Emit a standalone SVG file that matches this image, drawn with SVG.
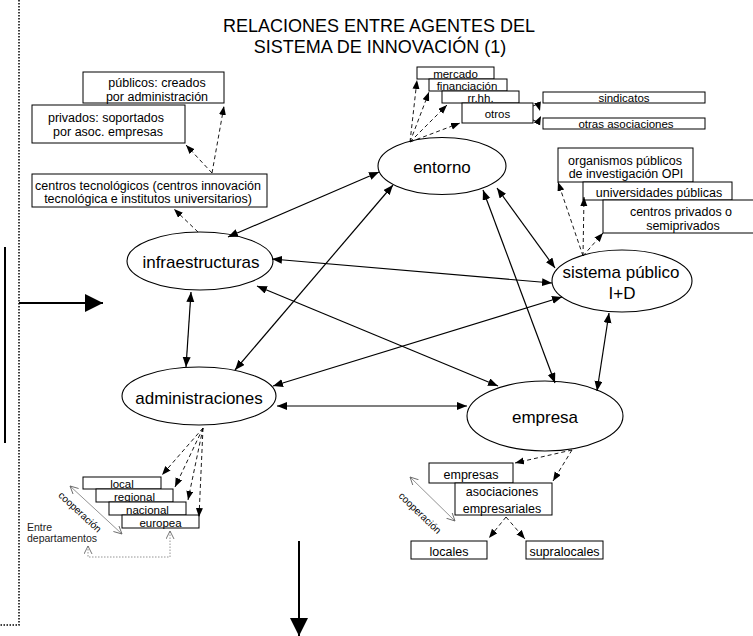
<svg xmlns="http://www.w3.org/2000/svg" width="753" height="636" viewBox="0 0 753 636">
<defs>
<marker id="ah" markerUnits="userSpaceOnUse" markerWidth="11" markerHeight="9" refX="10" refY="4" orient="auto-start-reverse" viewBox="0 0 11 9"><path d="M0,0 L10,4 L0,8 z" fill="#000"/></marker>
<marker id="ahd" markerUnits="userSpaceOnUse" markerWidth="10" markerHeight="8" refX="9" refY="3.5" orient="auto-start-reverse" viewBox="0 0 10 8"><path d="M0,0 L9,3.5 L0,7 z" fill="#000"/></marker>
<marker id="big" markerUnits="userSpaceOnUse" markerWidth="19" markerHeight="19" refX="18" refY="9" orient="auto" viewBox="0 0 19 19"><path d="M0,0 L18,9 L0,18 z" fill="#000"/></marker>
<marker id="open" markerUnits="userSpaceOnUse" markerWidth="10" markerHeight="9" refX="8" refY="4" orient="auto-start-reverse" viewBox="0 0 10 9"><path d="M0,0 L8,4 L0,8" fill="none" stroke="#666" stroke-width="0.9"/></marker>
</defs>
<style>
.t{font-family:"Liberation Sans",Arial,sans-serif;fill:#000}
.ttl{font-size:18px}
.nt{font-size:17px}
.bt{font-size:12.5px}
.st{font-size:11.5px}
.sm{font-size:10.5px;fill:#222}
.el{fill:#fff;stroke:#000;stroke-width:1.1}
.box{fill:#fff;stroke:#000;stroke-width:1}
.solid{fill:none;stroke:#000;stroke-width:1.2;marker-start:url(#ah);marker-end:url(#ah)}
.dash{fill:none;stroke:#000;stroke-width:0.9;stroke-dasharray:4,3;marker-end:url(#ahd)}
.coop{fill:none;stroke:#777;stroke-width:0.8;marker-start:url(#open);marker-end:url(#open)}
.dot{fill:none;stroke:#888;stroke-width:0.9;stroke-dasharray:1.5,1.5;marker-start:url(#open);marker-end:url(#open)}
</style>
<rect width="753" height="636" fill="#fff"/>

<g id="title">
<text class="t ttl" x="379" y="32" text-anchor="middle">RELACIONES ENTRE AGENTES DEL</text>
<text class="t ttl" x="380" y="53" text-anchor="middle">SISTEMA DE INNOVACIÓN (1)</text>
</g>

<g id="frame">
<path d="M19,0 V625 H0" fill="none" stroke="#000" stroke-width="1.5" stroke-dasharray="1.5,1.5"/>
<line x1="5" y1="247" x2="5" y2="443" stroke="#000" stroke-width="2"/>
<line x1="19" y1="303" x2="103" y2="303" stroke="#000" stroke-width="2" marker-end="url(#big)"/>
<line x1="299" y1="541" x2="299" y2="636" stroke="#000" stroke-width="2" marker-end="url(#big)"/>
</g>

<g id="n-entorno">
<ellipse class="el" cx="442" cy="166" rx="64" ry="28.5"/>
<text class="t nt" x="442" y="173" text-anchor="middle">entorno</text>
</g>
<g id="n-infraestructuras">
<ellipse class="el" cx="200" cy="261" rx="73" ry="29"/>
<text class="t nt" x="201" y="268" text-anchor="middle">infraestructuras</text>
</g>
<g id="n-sistema">
<ellipse class="el" cx="622" cy="281" rx="70" ry="31"/>
<text class="t nt" x="621" y="278" text-anchor="middle">sistema público</text>
<text class="t nt" x="622" y="299" text-anchor="middle">I+D</text>
</g>
<g id="n-administraciones">
<ellipse class="el" cx="199" cy="396" rx="77" ry="29"/>
<text class="t nt" x="199" y="404" text-anchor="middle">administraciones</text>
</g>
<g id="n-empresa">
<ellipse class="el" cx="545" cy="416" rx="78" ry="35"/>
<text class="t nt" x="545" y="423" text-anchor="middle">empresa</text>
</g>

<g id="b-publicos">
<rect class="box" x="83" y="72" width="141" height="31"/>
<text class="t bt" x="157" y="86.5" text-anchor="middle">públicos: creados</text>
<text class="t bt" x="157" y="100.5" text-anchor="middle">por administración</text>
</g>
<g id="b-privados">
<rect class="box" x="32" y="105" width="153" height="38"/>
<text class="t bt" x="106" y="121.5" text-anchor="middle">privados: soportados</text>
<text class="t bt" x="108" y="136" text-anchor="middle">por asoc. empresas</text>
</g>
<g id="b-centros-tec">
<rect class="box" x="32" y="174" width="235" height="33"/>
<text class="t bt" x="148" y="189.5" text-anchor="middle">centros tecnológicos (centros innovación</text>
<text class="t bt" x="148" y="203" text-anchor="middle">tecnológica e institutos universitarios)</text>
</g>

<g id="b-mercado">
<rect class="box" x="417" y="67" width="77" height="12"/>
<text class="t st" x="455.5" y="78" text-anchor="middle">mercado</text>
</g>
<g id="b-financiacion">
<rect class="box" x="429" y="79" width="78" height="12"/>
<text class="t st" x="467" y="90" text-anchor="middle">financiación</text>
</g>
<g id="b-rrhh">
<rect class="box" x="442" y="91" width="77" height="12"/>
<text class="t st" x="480.5" y="102" text-anchor="middle">rr.hh.</text>
</g>
<g id="b-otros">
<rect class="box" x="462" y="103" width="71" height="20"/>
<text class="t st" x="497.5" y="117.5" text-anchor="middle">otros</text>
</g>
<g id="b-sindicatos">
<rect class="box" x="543" y="92" width="162" height="11"/>
<text class="t st" x="624" y="102" text-anchor="middle">sindicatos</text>
</g>
<g id="b-otras">
<rect class="box" x="543" y="118" width="162" height="11"/>
<text class="t st" x="626" y="128" text-anchor="middle">otras asociaciones</text>
</g>

<g id="b-opi">
<rect class="box" x="558" y="148" width="135" height="34"/>
<text class="t bt" x="625" y="164.5" text-anchor="middle">organismos públicos</text>
<text class="t bt" x="626" y="177.5" text-anchor="middle">de investigación OPI</text>
</g>
<g id="b-universidades">
<rect class="box" x="583" y="182" width="149" height="18"/>
<text class="t bt" x="659" y="196.5" text-anchor="middle">universidades públicas</text>
</g>
<g id="b-centros-priv">
<rect class="box" x="603" y="200" width="152" height="33"/>
<text class="t bt" x="681" y="215.5" text-anchor="middle">centros privados o</text>
<text class="t bt" x="683" y="229.5" text-anchor="middle">semiprivados</text>
</g>

<g id="b-local">
<rect class="box" x="83" y="477" width="78" height="12"/>
<text class="t st" x="122" y="488" text-anchor="middle">local</text>
</g>
<g id="b-regional">
<rect class="box" x="96" y="489" width="77" height="13"/>
<text class="t st" x="134.5" y="500.5" text-anchor="middle">regional</text>
</g>
<g id="b-nacional">
<rect class="box" x="109" y="502" width="77" height="13"/>
<text class="t st" x="147.5" y="513.5" text-anchor="middle">nacional</text>
</g>
<g id="b-europea">
<rect class="box" x="122" y="515" width="77" height="13"/>
<text class="t st" x="160.5" y="526.5" text-anchor="middle">europea</text>
</g>
<g id="lbl-left">
<text class="t sm" x="27" y="531">Entre</text>
<text class="t sm" x="27" y="541.5">departamentos</text>
<text class="t" font-size="10" fill="#333" text-anchor="middle" transform="translate(80,512) rotate(43)" y="3.5">cooperación</text>
</g>

<g id="b-empresas">
<rect class="box" x="429" y="463" width="84" height="20"/>
<text class="t bt" x="471" y="478.5" text-anchor="middle">empresas</text>
</g>
<g id="b-asociaciones">
<rect class="box" x="455" y="483" width="97" height="32"/>
<text class="t bt" x="502" y="495.5" text-anchor="middle">asociaciones</text>
<text class="t bt" x="502" y="512.5" text-anchor="middle">empresariales</text>
</g>
<g id="b-locales">
<rect class="box" x="411" y="541" width="76" height="18"/>
<text class="t bt" x="449" y="555.5" text-anchor="middle">locales</text>
</g>
<g id="b-supralocales">
<rect class="box" x="526" y="541" width="77" height="18"/>
<text class="t bt" x="564.5" y="555.5" text-anchor="middle">supralocales</text>
</g>
<g id="lbl-right">
<text class="t" font-size="10" fill="#333" text-anchor="middle" transform="translate(420,513) rotate(44)" y="3.5">cooperación</text>
</g>

<g id="connectors">
<line class="solid" x1="379" y1="172" x2="228" y2="237"/>
<line class="solid" x1="393" y1="185" x2="235" y2="370"/>
<line class="solid" x1="497" y1="188" x2="555" y2="268"/>
<line class="solid" x1="483" y1="190" x2="555" y2="383"/>
<line class="solid" x1="272" y1="259" x2="552" y2="283"/>
<line class="solid" x1="257" y1="286" x2="498" y2="386"/>
<line class="solid" x1="191" y1="292" x2="186" y2="367"/>
<line class="solid" x1="273" y1="386" x2="562" y2="297"/>
<line class="solid" x1="277" y1="406" x2="467" y2="406"/>
<line class="solid" x1="609" y1="313" x2="597" y2="391"/>

<line class="dash" x1="212" y1="173" x2="224" y2="106"/>
<line class="dash" x1="212" y1="173" x2="186" y2="145"/>
<line class="dash" x1="198" y1="232" x2="174" y2="209"/>

<line class="dash" x1="410" y1="142" x2="417" y2="80"/>
<line class="dash" x1="410" y1="142" x2="429" y2="92"/>
<line class="dash" x1="410" y1="142" x2="447" y2="105"/>
<line class="dash" x1="410" y1="142" x2="460" y2="123"/>
<path class="dash" d="M533,106 L538,104 L540,111"/>
<path class="dash" d="M533,120 L538,122 L541,116"/>

<line class="dash" x1="583" y1="256" x2="558" y2="182"/>
<line class="dash" x1="583" y1="256" x2="584" y2="197"/>
<line class="dash" x1="583" y1="256" x2="603" y2="233"/>

<line class="dash" x1="203" y1="428" x2="162" y2="475"/>
<line class="dash" x1="203" y1="428" x2="175" y2="487"/>
<line class="dash" x1="203" y1="428" x2="188" y2="500"/>
<line class="dash" x1="203" y1="428" x2="199" y2="517"/>

<line class="dash" x1="572" y1="450" x2="515" y2="463"/>
<line class="dash" x1="572" y1="450" x2="553" y2="481"/>
<line class="dash" x1="506" y1="517" x2="489" y2="538"/>
<line class="dash" x1="506" y1="517" x2="525" y2="539"/>

<line class="coop" x1="70" y1="486" x2="122" y2="534"/>
<line class="coop" x1="410" y1="477" x2="455" y2="521"/>
<path class="dot" d="M88,546 V557 H170 V531"/>
</g>
</svg>
